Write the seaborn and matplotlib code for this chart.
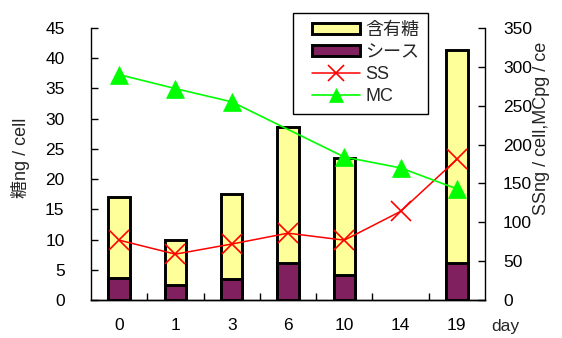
import numpy as np
import pandas as pd
import matplotlib
matplotlib.use("Agg")
import matplotlib.pyplot as plt
from matplotlib.container import BarContainer
from matplotlib.lines import Line2D
from matplotlib.legend_handler import (HandlerPatch, HandlerLine2D,
                                       update_from_first_child)
import seaborn as sns

# Sampling days and measured values
days = ["0", "1", "3", "6", "10", "14", "19"]
sugar_total = [17.1, 10.0, 17.5, 28.6, 23.5, np.nan, 41.4]   # 含有糖, ng/cell
sheath = [3.6, 2.5, 3.5, 6.1, 4.1, np.nan, 6.2]              # シース, ng/cell
ss = [77, 59, 72, 86, 77, 114, 181]                           # SS, ng/cell
mc = [290, 272, 255, np.nan, 184, 170, 143]                   # MC, pg/cell

left_ticks = list(range(0, 46, 5))
right_ticks = list(range(0, 351, 50))

sns.set_theme(style="ticks")
plt.rcParams["font.family"] = ["Liberation Sans", "Noto Sans CJK JP"]

W, H = 562, 338
fig = plt.figure(figsize=(W / 100, H / 100), dpi=100)
ax = fig.add_axes([91 / W, 38 / H, 394 / W, 272 / H])

bars = pd.DataFrame({"day": days, "total": sugar_total, "sheath": sheath})
common = dict(data=bars, x="day", order=days, width=0.38, edgecolor="black",
              linewidth=2.1, saturation=1, errorbar=None, ax=ax)
sns.barplot(y="total", color="#FFFF99", label="含有糖", **common)
sns.barplot(y="sheath", color="#80205F", label="シース", **common)

ax.set_xlim(-0.5, len(days) - 0.5)
ax.set_ylim(0, 45)
ax.set_yticks(left_ticks)
ax.set_xlabel("")
ax.set_ylabel("")

# Lines on the secondary axis, positioned at the category slots
ax2 = ax.twinx()
pos = np.arange(len(days))
ss_df = pd.DataFrame({"pos": pos, "val": ss}).dropna()
mc_df = pd.DataFrame({"pos": pos, "val": mc}).dropna()
sns.lineplot(data=ss_df, x="pos", y="val", ax=ax2, color="#FF0000", lw=1.1,
             marker="x", markersize=15, markeredgewidth=1.2,
             markeredgecolor="#FF0000", label="SS")
sns.lineplot(data=mc_df, x="pos", y="val", ax=ax2, color="#00FF00", lw=1.2,
             marker="^", markersize=13, markeredgewidth=0.5,
             markeredgecolor="#00FF00", markerfacecolor="#00FF00", label="MC")
ax2.set_ylim(0, 350)
ax2.set_yticks(right_ticks)
ax2.set_xlim(-0.5, len(days) - 0.5)
ax2.set_xlabel("")
ax2.set_ylabel("")

for a in (ax, ax2):
    if a.get_legend() is not None:
        a.get_legend().remove()
    a.spines["top"].set_visible(False)
    for s in a.spines.values():
        s.set_color("black")
        s.set_linewidth(1.0)
ax.spines["right"].set_visible(False)
ax2.spines["left"].set_visible(False)

tick_fs = 12.5
ax.tick_params(axis="y", direction="in", length=5, width=1, labelsize=tick_fs,
               pad=19, colors="black")
ax.tick_params(axis="x", which="major", length=0, labelsize=tick_fs, pad=13,
               colors="black")
ax.set_xticks(np.arange(0.5, len(days) - 1, 1.0), minor=True)
ax.tick_params(axis="x", which="minor", direction="in", length=5, width=1,
               color="black")
ax2.tick_params(axis="y", direction="in", length=5, width=1, labelsize=tick_fs,
                pad=13, colors="black")
ax2.tick_params(axis="x", length=0, labelbottom=False)

fig.text(20 / W, 1 - 158 / H, "糖ng / cell", rotation=90, ha="center",
         va="center", fontsize=13)
fig.text(542 / W, 1 - 128 / H, "SSng / cell,MCpg / ce", rotation=90,
         ha="center", va="center", fontsize=13)
fig.text(505 / W, 1 - 327 / H, "day", ha="center", va="center",
         fontsize=tick_fs)

# Legend: handles inset from the frame's left edge
xp = 0.55
hmap = {BarContainer: HandlerPatch(update_func=update_from_first_child, xpad=xp),
        Line2D: HandlerLine2D(xpad=xp)}
h1, l1 = ax.get_legend_handles_labels()
h2, l2 = ax2.get_legend_handles_labels()
leg = fig.legend(h1 + h2, l1 + l2, loc="upper left",
                 bbox_to_anchor=(293 / W, 1 - 13 / H), frameon=True,
                 fancybox=False, edgecolor="black", framealpha=1,
                 fontsize=13, handlelength=3.2, handleheight=0.55,
                 labelspacing=0.27, borderpad=0.5, handletextpad=0.3,
                 markerscale=0.75, borderaxespad=0, handler_map=hmap)
leg.get_frame().set_linewidth(1.0)
for hnd in leg.legend_handles:
    if hasattr(hnd, "set_linewidth") and not hasattr(hnd, "get_marker"):
        hnd.set_linewidth(2.1)

fig.savefig("out.png", dpi=100)
